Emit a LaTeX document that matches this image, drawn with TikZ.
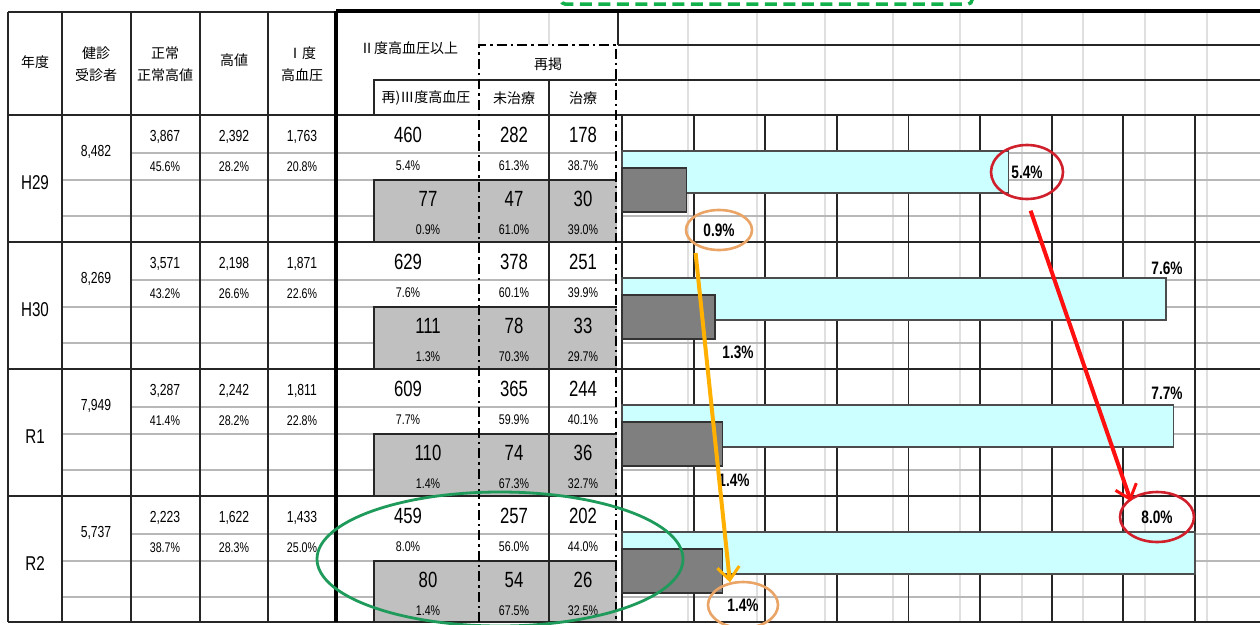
\documentclass[tikz,border=0pt]{standalone}
\usepackage{fontspec}
\setmainfont{Liberation Sans}[FakeStretch=0.76]
\newfontfamily\jp{Noto Sans CJK JP}
\usepackage{tikz}
\usetikzlibrary{arrows.meta, positioning, shapes.geometric, calc}

\definecolor{barcyan}{HTML}{CCFFFF}
\definecolor{bardark}{HTML}{7F7F7F}
\definecolor{cellgray}{HTML}{C0C0C0}
\definecolor{ringred}{HTML}{D0202C}
\definecolor{ringorange}{HTML}{E9A466}
\definecolor{markgreen}{HTML}{1E9A5A}
\definecolor{dashgreen}{HTML}{12B04A}
\definecolor{arrowred}{HTML}{FF1010}
\definecolor{arroworange}{HTML}{FFB000}

\begin{document}
\begin{tikzpicture}[x=1pt, y=-1pt,
    % Line styles
    rule/.style={draw=black!85, line width=2pt},
    heavy/.style={draw=black, line width=3.2pt},
    subrule/.style={draw=black!28, line width=1.4pt},
    faint/.style={draw=black!12, line width=1.2pt},
    dashdot/.style={draw=black, line width=2.4pt, dash pattern=on 10pt off 4pt on 2.5pt off 4pt},
    % Text styles
    hdtext/.style={font=\jp\fontsize{14}{22}\selectfont, align=center, inner sep=0pt},
    yrtext/.style={font=\fontsize{20}{20}\selectfont, inner sep=0pt},
    smallnum/.style={font=\fontsize{16}{16}\selectfont, inner sep=0pt},
    bignum/.style={font=\fontsize{22}{22}\selectfont, inner sep=0pt},
    pctnum/.style={font=\fontsize{14}{14}\selectfont, inner sep=0pt},
    barlbl/.style={font=\bfseries\fontsize{18}{18}\selectfont, inner sep=1pt},
    % Bar styles
    hibar/.style={fill=barcyan, draw=black!70, line width=1.5pt},
    lobar/.style={fill=bardark, draw=black!80, line width=1.5pt},
    % Annotation styles
    redring/.style={barlbl, ellipse, draw=ringred, line width=2.6pt},
    orangering/.style={barlbl, ellipse, draw=ringorange, line width=2.6pt},
    markarrow/.style={-{Straight Barb[length=13pt, width=22pt, line width=3pt]}, line width=4pt}
]
\useasboundingbox (0,0) rectangle (1260,624);

% Gray cells (III grade rows)
\foreach \i in {1,...,4} {
    \pgfmathsetmacro\r{115+127*(\i-1)}
    \fill[cellgray] (374,\r+65) rectangle (617,\r+127);
}

% Faint spreadsheet grid
\foreach \x in {688,757,825,893,960,1022,1083,1145,1207}
    \draw[faint] (\x,12) -- (\x,622);
\foreach \x in {479,549}
    \draw[faint] (\x,12) -- (\x,45);

% Sub rows
\foreach \i in {1,...,4} {
    \pgfmathsetmacro\r{115+127*(\i-1)}
    \draw[subrule] (131,\r+38) -- (617,\r+38);
    \draw[subrule] (622,\r+38) -- (1260,\r+38);
    \draw[subrule] (62,\r+65) -- (374,\r+65);
    \draw[subrule] (62,\r+101) -- (374,\r+101);
    \draw[subrule] (622,\r+65) -- (1260,\r+65);
    \draw[subrule] (622,\r+101) -- (1260,\r+101);
    \draw[rule] (374,\r+127) -- (374,\r+65) -- (617,\r+65);
}

% Table frame
\draw[rule] (8,12) -- (336,12);
\foreach \x in {8,62,131,200,268}
    \draw[rule] (\x,12) -- (\x,622);
\foreach \y in {115,242,369,496,622}
    \draw[rule] (8,\y) -- (1260,\y);
\draw[rule] (374,115) -- (374,80) -- (617,80);
\draw[rule] (549,80) -- (549,622);
\draw[rule] (618,12) -- (618,45);
\draw[rule] (618,45) -- (1260,45);
\draw[rule] (618,80) -- (1260,80);
\draw[rule] (622,115) -- (622,622);
\draw[dashdot] (479,622) -- (479,45) -- (616,45) -- (616,622);
\draw[heavy, line width=4.5pt] (336,11) -- (1260,11);
\draw[heavy] (336,11) -- (336,622);

% Chart grid, one line per 1%
\foreach \k in {1,...,8}
    \draw[rule, line width=1.8pt] ({622+71.6*\k},115) -- ({622+71.6*\k},622);

% Bars
\foreach \i/\hi/\lo in {1/5.4/0.9, 2/7.6/1.3, 3/7.7/1.4, 4/8.0/1.4} {
    \pgfmathsetmacro\r{115+127*(\i-1)}
    \draw[hibar] (622,\r+36) rectangle ({622+71.6*\hi},\r+78);
    \draw[lobar] (622,\r+53) rectangle ({622+71.6*\lo},\r+97);
}

% Headers
\node[hdtext] (h-year) at (35,62) {年度};
\node[hdtext] (h-total) at (96,64) {健診\\受診者};
\node[hdtext] (h-norm) at (165,64) {正常\\正常高値};
\node[hdtext] (h-high) at (234,60) {高値};
\node[hdtext] (h-grade1) at (302,64) {Ⅰ度\\高血圧};
\node[hdtext] (h-grade2) at (409,48) {Ⅱ度高血圧以上};
\node[hdtext] (h-again) at (548,64) {再掲};
\node[hdtext] (h-grade3) at (426,98) {再)Ⅲ度高血圧};
\node[hdtext] (h-untreated) at (514,98) {未治療};
\node[hdtext] (h-treated) at (583,98) {治療};

% Left table values
\foreach \i/\yr/\tot/\a/\ap/\b/\bp/\c/\cp in {
    1/H29/{8,482}/{3,867}/45.6/{2,392}/28.2/{1,763}/20.8,
    2/H30/{8,269}/{3,571}/43.2/{2,198}/26.6/{1,871}/22.6,
    3/R1/{7,949}/{3,287}/41.4/{2,242}/28.2/{1,811}/22.8,
    4/R2/{5,737}/{2,223}/38.7/{1,622}/28.3/{1,433}/25.0} {
    \pgfmathsetmacro\r{115+127*(\i-1)}
    \node[yrtext] (yr-\i) at (35,\r+68) {\yr};
    \node[smallnum] (tot-\i) at (96,\r+37) {\tot};
    \node[smallnum] (na-\i) at (165,\r+22) {\a};
    \node[pctnum] (pa-\i) at (165,\r+52) {\ap\%};
    \node[smallnum] (nb-\i) at (234,\r+22) {\b};
    \node[pctnum] (pb-\i) at (234,\r+52) {\bp\%};
    \node[smallnum] (nc-\i) at (302,\r+22) {\c};
    \node[pctnum] (pc-\i) at (302,\r+52) {\cp\%};
}

% Grade II and over, with untreated / treated
\foreach \i/\n/\na/\nb/\p/\pa/\pb in {
    1/460/282/178/5.4/61.3/38.7,
    2/629/378/251/7.6/60.1/39.9,
    3/609/365/244/7.7/59.9/40.1,
    4/459/257/202/8.0/56.0/44.0} {
    \pgfmathsetmacro\r{115+127*(\i-1)}
    \node[bignum] (two-\i) at (408,\r+20) {\n};
    \node[bignum] (twou-\i) at (514,\r+20) {\na};
    \node[bignum] (twot-\i) at (583,\r+20) {\nb};
    \node[pctnum] (twop-\i) at (408,\r+51) {\p\%};
    \node[pctnum] (twoup-\i) at (514,\r+51) {\pa\%};
    \node[pctnum] (twotp-\i) at (583,\r+51) {\pb\%};
}

% Grade III (gray rows)
\foreach \i/\n/\na/\nb/\p/\pa/\pb in {
    1/77/47/30/0.9/61.0/39.0,
    2/111/78/33/1.3/70.3/29.7,
    3/110/74/36/1.4/67.3/32.7,
    4/80/54/26/1.4/67.5/32.5} {
    \pgfmathsetmacro\r{115+127*(\i-1)}
    \node[bignum] (three-\i) at (428,\r+84) {\n};
    \node[bignum] (threeu-\i) at (514,\r+84) {\na};
    \node[bignum] (threet-\i) at (583,\r+84) {\nb};
    \node[pctnum] (threep-\i) at (428,\r+115) {\p\%};
    \node[pctnum] (threeup-\i) at (514,\r+115) {\pa\%};
    \node[pctnum] (threetp-\i) at (583,\r+115) {\pb\%};
}

% Bar labels
\node[redring, minimum width=72, minimum height=54] (hi-1) at (1027,172) {5.4\%};
\node[barlbl] (hi-2) at (1167,268) {7.6\%};
\node[barlbl] (hi-3) at (1167,393) {7.7\%};
\node[redring, minimum width=74, minimum height=50] (hi-4) at (1157,517) {8.0\%};
\node[orangering, minimum width=66, minimum height=40] (lo-1) at (719,230) {0.9\%};
\node[barlbl] (lo-2) at (738,352) {1.3\%};
\node[barlbl] (lo-3) at (734,480) {1.4\%};
\node[orangering, minimum width=70, minimum height=46] (lo-4) at (743,605) {1.4\%};

% Marks
\node[ellipse, draw=markgreen, line width=2.8pt, minimum width=366, minimum height=134] (focus) at (500,559) {};
\draw[draw=dashgreen, line width=3.5pt, dash pattern=on 12pt off 6.5pt, rounded corners=4pt] (561,-20) rectangle (972,4);
\draw[markarrow, arrowred, shorten <=11pt, shorten >=-3pt] (hi-1.south) -- (hi-4.north west);
\draw[markarrow, arroworange, shorten <=8pt] (lo-1.south west) -- (lo-4.120);

\end{tikzpicture}
\end{document}
